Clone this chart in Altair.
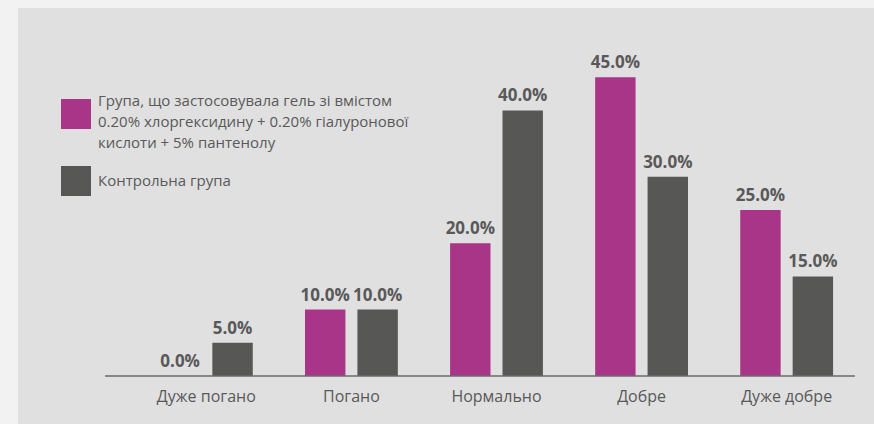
import altair as alt
import pandas as pd

categories = ["Дуже погано", "Погано", "Нормально", "Добре", "Дуже добре"]
series_names = [
    "Група, що застосовувала гель зі вмістом\n0.20% хлоргексидину + 0.20% гіалуронової\nкислоти + 5% пантенолу",
    "Контрольна група",
]
values_gel = [0.0, 10.0, 20.0, 45.0, 25.0]
values_control = [5.0, 10.0, 40.0, 30.0, 15.0]
colors = ["#a93589", "#575756"]

rows = []
for i, c in enumerate(categories):
    rows.append({"cat": c, "series": series_names[0], "s": 0, "value": values_gel[i]})
    rows.append({"cat": c, "series": series_names[1], "s": 1, "value": values_control[i]})
df = pd.DataFrame(rows)

W, H = 737, 332
L = 128
FONT = "Open Sans"
TXT = "#595959"

x = alt.X("cat:N", sort=categories,
          scale=alt.Scale(paddingInner=0.36, paddingOuter=0.22),
          axis=alt.Axis(title=None, labelAngle=0, domain=False, ticks=False,
                        labelFontSize=16, labelColor=TXT, labelFont=FONT,
                        labelPadding=12, zindex=1))
xo = alt.XOffset("s:O", scale=alt.Scale(paddingInner=0.229, paddingOuter=0))
y = alt.Y("value:Q", scale=alt.Scale(domain=[0, 50]), axis=None)
color = alt.Color("series:N", scale=alt.Scale(domain=series_names, range=colors), legend=None)

one = alt.Data(values=[{}])

panel = alt.Chart(one).mark_rect(color="#e0e0e0").encode(
    x=alt.value(18 - L), x2=alt.value(W + 20), y=alt.value(-36), y2=alt.value(H + 60))

bars = alt.Chart(df).mark_bar().encode(x=x, xOffset=xo, y=y, color=color)

labels = alt.Chart(df).transform_calculate(
    label="format(datum.value, '.1f') + '%'"
).mark_text(font=FONT, fontSize=17, fontWeight="bold", color=TXT,
            baseline="alphabetic", dy=-9).encode(
    x=x, xOffset=xo, y=y, text="label:N")

baseline_rule = alt.Chart(one).mark_rule(color="#6b6b6b", strokeWidth=1.5).encode(
    x=alt.value(105 - L), x2=alt.value(855 - L), y=alt.value(H))

leg_sq1 = alt.Chart(one).mark_rect(color=colors[0]).encode(
    x=alt.value(61 - L), x2=alt.value(91 - L), y=alt.value(55), y2=alt.value(85))
leg_sq2 = alt.Chart(one).mark_rect(color=colors[1]).encode(
    x=alt.value(61 - L), x2=alt.value(91 - L), y=alt.value(122), y2=alt.value(152))
leg_t1 = alt.Chart(one).mark_text(font=FONT, fontSize=15, color=TXT, align="left",
                                  baseline="top", lineBreak="\n", lineHeight=21).encode(
    x=alt.value(98 - L), y=alt.value(50), text=alt.value(series_names[0]))
leg_t2 = alt.Chart(one).mark_text(font=FONT, fontSize=15, color=TXT, align="left",
                                  baseline="middle").encode(
    x=alt.value(98 - L), y=alt.value(137), text=alt.value(series_names[1]))

chart = alt.layer(panel, bars, labels, baseline_rule, leg_sq1, leg_sq2, leg_t1, leg_t2).properties(
    width=W, height=H,
    autosize=alt.AutoSizeParams(type="none"),
    padding={"left": L, "top": 44, "right": 874 - L - W, "bottom": 48},
    background="#f2f2f2",
).configure_view(stroke=None)

chart.save("out.html", embed_options={"renderer": "svg", "actions": False})
